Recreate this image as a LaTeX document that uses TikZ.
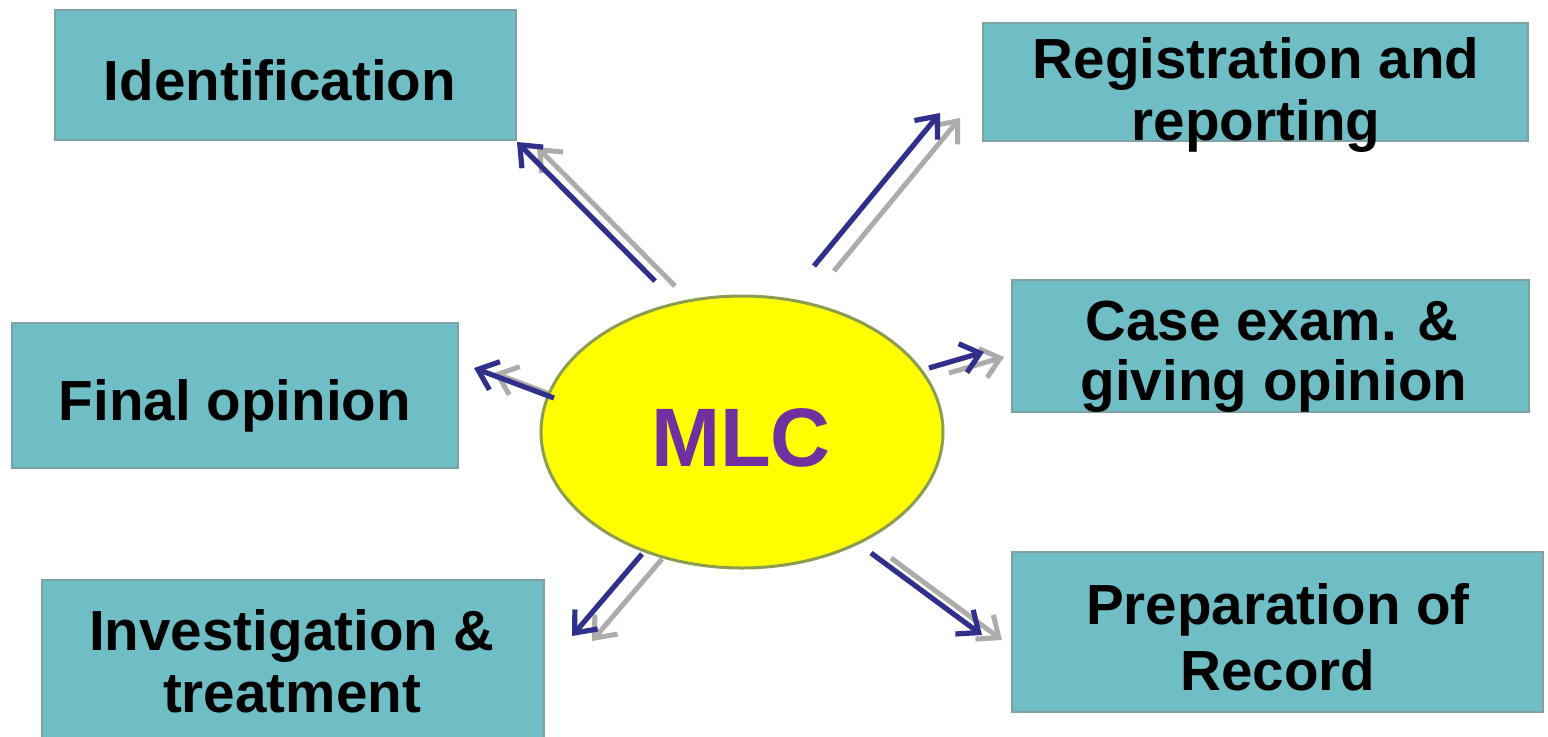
\documentclass[tikz,border=0pt]{standalone}
\usepackage{fontspec}
\setmainfont{Liberation Sans}
\usetikzlibrary{arrows.meta,shapes.geometric,calc}
\definecolor{boxfill}{RGB}{111,190,197}
\definecolor{boxline}{RGB}{128,160,164}
\definecolor{ellfill}{RGB}{255,255,0}
\definecolor{ellline}{RGB}{140,156,80}
\definecolor{mlcpurple}{RGB}{112,48,160}
\definecolor{arrblue}{RGB}{48,48,140}
\definecolor{arrgray}{RGB}{172,172,172}
\tikzset{
  box/.style={draw=boxline, line width=1pt, fill=boxfill, rectangle, inner sep=0pt},
  lbl/.style={anchor=base, inner sep=0pt, font=\fontsize{28.3}{31}\selectfont\bfseries, text=black},
  hub/.style={draw=ellline, line width=1.5pt, fill=ellfill, ellipse, inner sep=0pt,
              minimum width=201pt, minimum height=136pt},
  arr/.style={draw=arrblue, line width=2.6pt, -{Straight Barb[length=9pt,width=15pt]}},
  shd/.style={draw=arrgray, line width=2.5pt, -{Straight Barb[length=9pt,width=15pt]}}
}
\begin{document}
\begin{tikzpicture}[x=0.5pt,y=-0.5pt]
\useasboundingbox[fill=white] (0,0) rectangle (1548,736);

% boxes
\node[box, minimum width=230.5pt, minimum height=65pt] (ident) at (285.5,75) {};
\node[box, minimum width=272.5pt, minimum height=59pt] (reg) at (1255.5,82) {};
\node[box, minimum width=223pt, minimum height=72.5pt] (fin) at (235,395.5) {};
\node[box, minimum width=258.5pt, minimum height=66pt] (case) at (1270.5,346) {};
\node[box, minimum width=251pt, minimum height=90pt] (inv) at (293,670) {};
\node[box, minimum width=265.5pt, minimum height=80pt] (prep) at (1277.5,632) {};

% texts
\node[lbl] (t1) at (280,100) {Identification};
\node[lbl] (t2a) at (1256,78) {Registration and};
\node[lbl] (t2b) at (1256,140) {reporting};
\node[lbl] (t3) at (235,420) {Final opinion};
\node[lbl] (t4a) at (1272,340) {Case exam. \&};
\node[lbl] (t4b) at (1274,400) {giving opinion};
\node[lbl] (t5a) at (292,650) {Investigation \&};
\node[lbl] (t5b) at (292,712) {treatment};
\node[lbl] (t6a) at (1278,624) {Preparation of};
\node[lbl] (t6b) at (1278,690) {Record};

% arrow end points
\coordinate (s1) at (655,281); \coordinate (e1) at (517,142);
\coordinate (s2) at (814,266); \coordinate (e2) at (940,113);
\coordinate (s3) at (554,398); \coordinate (e3) at (474,368);
\coordinate (s4) at (929,368); \coordinate (e4) at (984,352);
\coordinate (s5) at (642,554); \coordinate (e5) at (572,636);
\coordinate (s6) at (871,553); \coordinate (e6) at (982,635);

% shadows (behind the hub)
\foreach \i in {1,...,6}{
  \draw[shd] ($(s\i)+(20,5)$) -- ($(e\i)+(20,5)$);
}

% hub
\node[hub] (mlc) at (742,432) {};
\node[anchor=base, inner sep=0pt, font=\fontsize{41.5}{45}\selectfont\bfseries, text=mlcpurple] (mlct) at (741,466) {MLC};

% arrows
\foreach \i in {1,...,6}{
  \draw[arr] (s\i) -- (e\i);
}
\end{tikzpicture}
\end{document}
